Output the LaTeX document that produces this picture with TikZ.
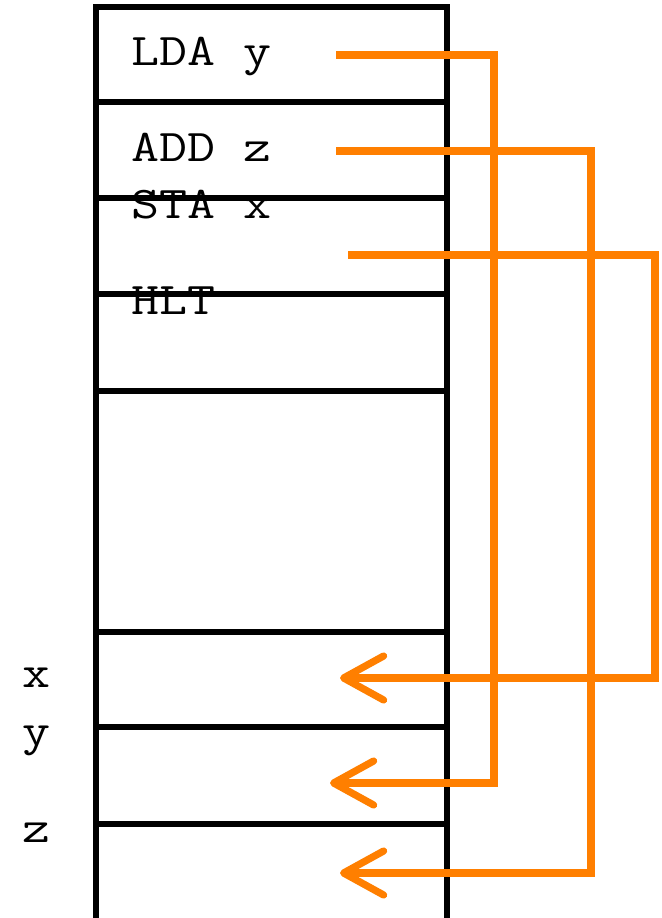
\documentclass[tikz,border=0pt]{standalone}
\usepackage{fontspec}
\newfontfamily\memfont{Latin Modern Mono}[FakeStretch=1.2]
\usetikzlibrary{arrows.meta}
\definecolor{ptrorange}{HTML}{FF7F00}

\begin{document}
\begin{tikzpicture}[
  x=0.75pt, y=-0.75pt,
  cell/.style={line width=3.8pt},
  instr/.style={anchor=base west, inner sep=0pt, font=\memfont\fontsize{34}{40}\selectfont},
  var/.style={anchor=base, inner sep=0pt, font=\memfont\fontsize{34}{40}\selectfont},
  ptr/.style={ptrorange, line width=5.4pt,
              -{Straight Barb[round, length=30pt, width=33pt]}}
]
\useasboundingbox (0,0) rectangle (661,918);

% memory column
\draw[cell] (96,925) -- (96,7) -- (447,7) -- (447,925);
\foreach \y in {102,198,294,391,632,727,824}
  \draw[cell] (96,\y) -- (447,\y);

% program
\node[instr] (lda) at (131,65) {LDA y};
\node[instr] (add) at (131,161) {ADD z};
\node[instr] (sta) at (131,218) {STA x};
\node[instr] (hlt) at (131,314) {HLT};

% variables
\node[var] (vx) at (37,687) {x};
\node[var] (vy) at (37,745) {y};
\node[var] (vz) at (37,842) {z};

% pointer ends
\coordinate (fromy) at (336,55);
\coordinate (fromz) at (336,151);
\coordinate (fromx) at (348,255);
\coordinate (toy) at (330,783);
\coordinate (toz) at (340,873);
\coordinate (tox) at (340,678);

\draw[ptr] (fromy) -- (494,55) -- (494,783) -- (toy);
\draw[ptr] (fromz) -- (591,151) -- (591,873) -- (toz);
\draw[ptr] (fromx) -- (655,255) -- (655,678) -- (tox);
\end{tikzpicture}
\end{document}
